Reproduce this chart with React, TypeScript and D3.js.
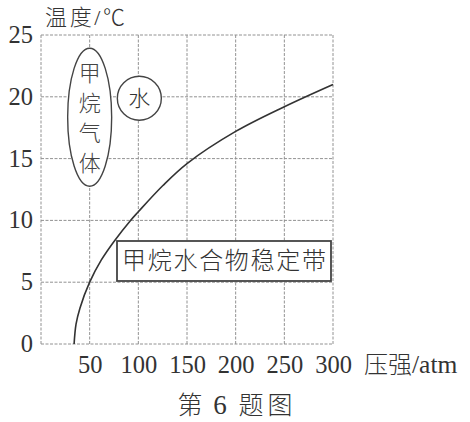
import React from "react";
import * as d3 from "d3";

const pressureTicks = [50, 100, 150, 200, 250, 300];
const tempTicks = [0, 5, 10, 15, 20, 25];
const curvePressure = [34, 36, 40, 50, 62, 75, 92, 100, 125, 150, 200, 250, 300];
const curveTemp = [0, 1.6, 2.9, 5, 6.8, 8.3, 10, 10.7, 12.8, 14.6, 17.2, 19.2, 21.0];
const gasChars = ["甲", "烷", "气", "体"];
const waterLabel = "水";
const bandLabel = "甲烷水合物稳定带";
const yTitle = "温度/℃";
const xTitleCjk = "压强";
const xTitleUnit = "/atm";
const captionParts = ["第", "6", "题图"];

const W = 470;
const H = 422;
const serif = "'Liberation Serif', 'Noto Sans CJK SC', serif";

export default function App() {
  const x = d3.scaleLinear().domain([0, 300]).range([41, 333]);
  const y = d3.scaleLinear().domain([0, 25]).range([344, 35]);
  const pts: [number, number][] = curvePressure.map((p, i) => [p, curveTemp[i]]);
  const line = d3
    .line<[number, number]>()
    .x((d) => x(d[0]))
    .y((d) => y(d[1]))
    .curve(d3.curveCatmullRom.alpha(0.5));
  const gridColor = "#929292";
  const dash = "3 1.5";
  const allX = [0, ...pressureTicks];
  const capX = [190, 220, 265.5];
  const capW = [24, 0, 54];
  const cjkW = 300;

  return (
    <svg
      width={W}
      height={H}
      style={{ position: "absolute", left: 0, top: 0, background: "#fff" }}
      fontFamily={serif}
    >
      <rect width={W} height={H} fill="#fff" />
      {allX.map((p) => (
        <line key={"gx" + p} x1={x(p)} x2={x(p)} y1={y(0)} y2={y(25)} stroke={gridColor} strokeWidth={1} strokeDasharray={dash} />
      ))}
      {tempTicks.map((t) => (
        <line key={"gy" + t} x1={x(0)} x2={x(300)} y1={y(t)} y2={y(t)} stroke={gridColor} strokeWidth={1} strokeDasharray={dash} />
      ))}
      {tempTicks.map((t) => (
        <text key={"ty" + t} x={33} y={y(t) + 8} textAnchor="end" fontSize={24.5} fill="#333">
          {t}
        </text>
      ))}
      {pressureTicks.map((p) => (
        <text key={"tx" + p} x={x(p) + 0.5} y={373} textAnchor="middle" fontSize={24.5} fill="#333">
          {p}
        </text>
      ))}
      <text x={364} y={373} fill="#333">
        <tspan fontSize={24} fontWeight={cjkW}>{xTitleCjk}</tspan>
        <tspan fontSize={25.5}>{xTitleUnit}</tspan>
      </text>
      <text x={45} y={25} fontSize={22} fill="#333" fontWeight={cjkW} textLength={80}>{yTitle}</text>
      {captionParts.map((c, i) => (
        <text
          key={"cap" + i}
          x={capX[i]}
          y={414}
          textAnchor="middle"
          fontSize={i === 1 ? 27 : 25}
          fontWeight={cjkW}
          fill="#333"
          textLength={capW[i] || undefined}
        >
          {c}
        </text>
      ))}

      <path d={line(pts) || ""} fill="none" stroke="#333" strokeWidth={1.6} />

      <ellipse cx={x(50)} cy={y(18.35)} rx={22} ry={69} fill="#fff" stroke="#444" strokeWidth={1.4} />
      {gasChars.map((c, i) => (
        <text key={c} x={x(50)} y={y(18.35) - 44 + i * 30 + 8} textAnchor="middle" fontSize={22} fontWeight={cjkW} fill="#444">
          {c}
        </text>
      ))}
      <circle cx={x(100) + 1} cy={y(20) + 1.5} r={22} fill="#fff" stroke="#444" strokeWidth={1.4} />
      <text x={x(100) + 1} y={y(20) + 9.5} textAnchor="middle" fontSize={22} fontWeight={cjkW} fill="#333">{waterLabel}</text>

      <rect x={117} y={241} width={214} height={40} fill="#fff" stroke="#444" strokeWidth={1.8} />
      <text x={224} y={269} textAnchor="middle" fontSize={24} fontWeight={cjkW} fill="#333" textLength={204}>{bandLabel}</text>
    </svg>
  );
}
